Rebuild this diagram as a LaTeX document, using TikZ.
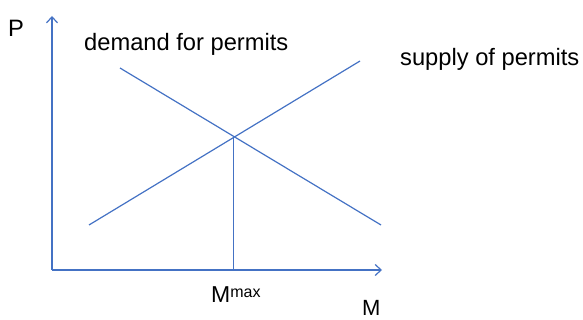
\documentclass[tikz,border=0pt]{standalone}
\usepackage{fontspec}
\setmainfont{Liberation Sans}
\usetikzlibrary{arrows.meta}
\definecolor{lineblue}{RGB}{68,114,196}
\tikzset{
  curve/.style={draw=lineblue, line width=1.2pt},
  axisline/.style={curve, -{Straight Barb[length=6pt,width=11pt,line width=1.2pt]}},
  lbl/.style={inner sep=0pt, anchor=base west, font=\fontsize{23.7}{28}\selectfont}
}
\begin{document}
\begin{tikzpicture}[x=1pt,y=-1pt]
\useasboundingbox (0,0) rectangle (583,320);
\coordinate (O) at (52,270);
\coordinate (ytip) at (52,16);
\coordinate (xtip) at (382,270);
\coordinate (d1) at (120,68);
\coordinate (d2) at (381,225);
\coordinate (s1) at (89,225);
\coordinate (s2) at (360,61);
\coordinate (E) at (233.3,136.5);
\coordinate (Ebase) at (233.3,270);
\draw[axisline] (O) -- (ytip);
\draw[axisline] (O) -- (xtip);
\draw[curve] (d1) -- (d2);
\draw[curve] (s1) -- (s2);
\draw[curve] (E) -- (Ebase);
\node[lbl] (P) at (8,37) {P};
\node[lbl] (dem) at (84,51) {demand for permits};
\node[lbl] (sup) at (400,66) {supply of permits};
\node[lbl, font=\fontsize{23}{27}\selectfont] (Mmax) at (211,302) {M\raisebox{5pt}{\fontsize{16}{16}\selectfont max}};
\node[lbl, font=\fontsize{22}{26}\selectfont] (M) at (362,315) {M};
\end{tikzpicture}
\end{document}
